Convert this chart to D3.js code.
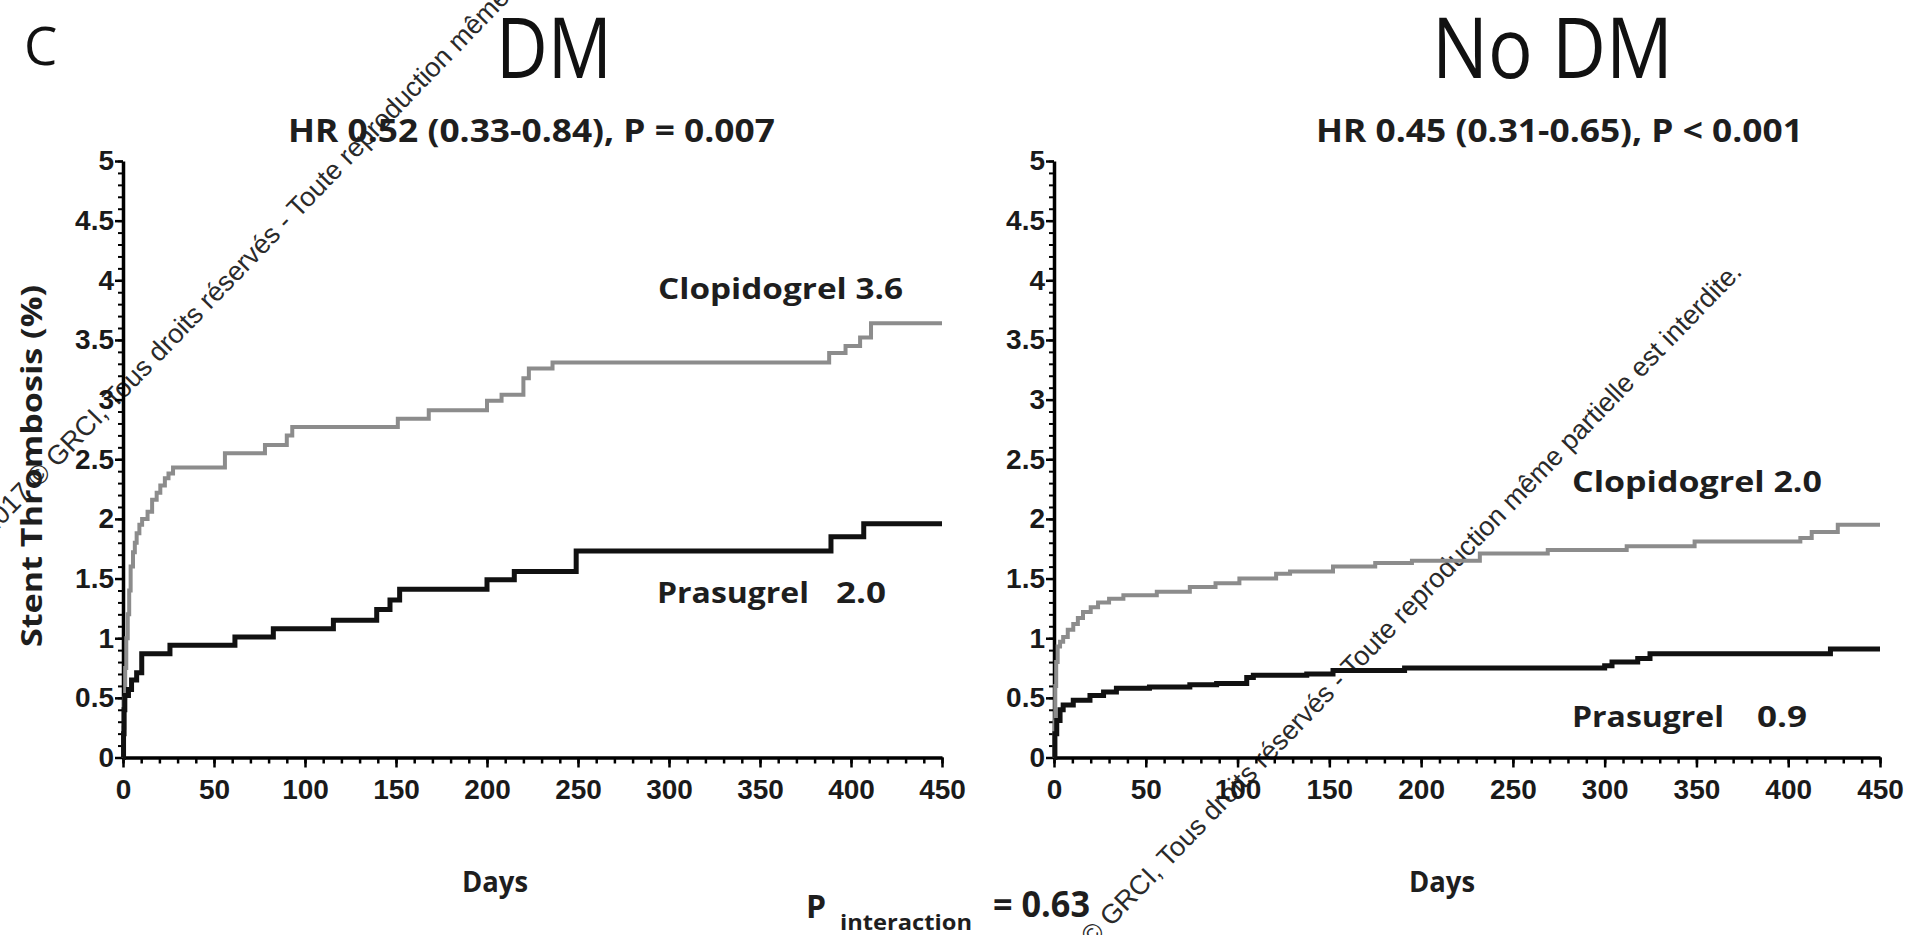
<!DOCTYPE html>
<html>
<head>
<meta charset="utf-8">
<script src="https://cdn.jsdelivr.net/npm/d3@7"></script>
<style>
  html, body { margin: 0; padding: 0; background: #fff; }
  svg { display: block; }
</style>
</head>
<body>
<svg id="chart" width="1915" height="935"></svg>
<script>
// Stent thrombosis, prasugrel vs clopidogrel, DM / No DM (panel C)

var yTicks = [0, 0.5, 1, 1.5, 2, 2.5, 3, 3.5, 4, 4.5, 5];
var yTickLabels = ["0", "0.5", "1", "1.5", "2", "2.5", "3", "3.5", "4", "4.5", "5"];
var xTicks = [0, 50, 100, 150, 200, 250, 300, 350, 400, 450];

var panelTitles = ["DM", "No DM"];
var hrTexts = ["HR 0.52 (0.33-0.84), P = 0.007", "HR 0.45 (0.31-0.65), P < 0.001"];
var clopiLabels = ["Clopidogrel 3.6", "Clopidogrel 2.0"];
var prasuNames = ["Prasugrel", "Prasugrel"];
var prasuValues = ["2.0", "0.9"];

// [day, cumulative %]
var clopiDM = [[0,0],[0.3,0.25],[0.7,0.5],[1.2,0.75],[1.8,1.0],[2.6,1.2],[3.4,1.4],[4.2,1.6],[5.5,1.72],[6.5,1.8],
  [7.5,1.88],[9,1.95],[10.5,2.0],[13.5,2.06],[16,2.16],[18.5,2.22],[20.5,2.28],[23,2.34],[25,2.38],[27.5,2.43],
  [56,2.55],[78,2.62],[90,2.7],[93,2.77],[151,2.84],[168,2.91],[200,2.99],[208,3.04],[220,3.18],[223,3.26],
  [236,3.31],[388,3.39],[397,3.45],[405,3.52],[411,3.64],[450,3.64]];

var prasuDM = [[0,0],[0.3,0.2],[0.6,0.4],[1,0.52],[3,0.57],[4.7,0.65],[7.5,0.71],[10.3,0.87],[25.8,0.94],
  [61.5,1.01],[82.6,1.08],[115.6,1.15],[139.4,1.24],[146.7,1.32],[152,1.41],[200,1.49],[215,1.56],[249,1.73],
  [389,1.85],[407,1.96],[450,1.96]];

var clopiNoDM = [[0,0],[0.3,0.3],[0.7,0.6],[1.2,0.8],[2,0.93],[3.3,0.97],[5,1.01],[7.5,1.07],[10.5,1.12],[13,1.17],
  [15.8,1.22],[20,1.26],[24,1.3],[30,1.33],[37.8,1.36],[56,1.39],[74,1.43],[88,1.46],[101,1.5],[121,1.54],
  [128.6,1.56],[152,1.6],[175,1.63],[195,1.65],[232,1.71],[269,1.74],[312,1.77],[349,1.81],[406.6,1.84],
  [412.8,1.89],[427,1.95],[450,1.95]];

var prasuNoDM = [[0,0],[0.5,0.2],[1.5,0.31],[3.3,0.4],[5,0.44],[10.5,0.48],[19.6,0.52],[27,0.55],[34,0.58],
  [52,0.59],[74,0.61],[88.6,0.62],[105,0.67],[108.6,0.69],[137.7,0.7],[152,0.73],[191,0.75],[300,0.77],
  [304,0.8],[318,0.83],[324.7,0.87],[423,0.91],[450,0.91]];

var svg = d3.select("#chart");
var bodyFont = "'Open Sans', 'Noto Sans', sans-serif";
var tickFont = "'Liberation Sans', Arial, sans-serif";

var y = d3.scaleLinear().domain([0, 5]).range([757.5, 161]);

// watermark lines (thin diagonal text)
var wm = "2017 \u00a9 GRCI, Tous droits r\u00e9serv\u00e9s - Toute reproduction m\u00eame partielle est interdite.";
[[52, 474], [1106, 933]].forEach(function(p) {
  var g = svg.append("g").attr("transform", "translate(" + p[0] + "," + p[1] + ") rotate(-46)");
  var pre = g.append("text").text("2017 \u00a9 ")
    .attr("font-family", tickFont).attr("font-size", 27).attr("opacity", 0);
  var w = pre.node().getComputedTextLength();
  pre.remove();
  g.append("text").text(wm)
    .attr("x", -w)
    .attr("font-family", tickFont).attr("font-size", 27)
    .attr("fill", "#2a2a2a");
});

var panels = [
  { x0: 123, x1: 942, clopi: clopiDM, prasu: prasuDM,
    titleX: 496, titleW: 116, hrX: 288,
    cl: [658, 299, 245], pr: [657, 603, 152], pv: [836, 603, 50], daysX: 462 },
  { x0: 1054, x1: 1880, clopi: clopiNoDM, prasu: prasuNoDM,
    titleX: 1432, titleW: 241, hrX: 1316,
    cl: [1572, 492, 250], pr: [1572, 727, 152], pv: [1757, 727, 50], daysX: 1409 }
];

panels.forEach(function(p, i) {
  var x = d3.scaleLinear().domain([0, 450]).range([p.x0, p.x1]);
  var g = svg.append("g");

  // minor ticks
  g.append("g")
    .attr("transform", "translate(0," + y(0) + ")")
    .call(d3.axisBottom(x).tickValues(d3.range(0, 451, 10)).tickSize(6).tickSizeOuter(0).tickFormat(""))
    .call(function(a) { a.select(".domain").remove(); a.selectAll("line").attr("stroke-width", 2.5); });
  g.append("g")
    .attr("transform", "translate(" + x(0) + ",0)")
    .call(d3.axisLeft(y).tickValues(d3.range(0, 5.01, 0.1)).tickSize(5).tickSizeOuter(0).tickFormat(""))
    .call(function(a) { a.select(".domain").remove(); a.selectAll("line").attr("stroke-width", 2); });

  // main axes
  var xAxis = g.append("g")
    .attr("transform", "translate(0," + y(0) + ")")
    .call(d3.axisBottom(x).tickValues(xTicks).tickSize(10).tickSizeOuter(0).tickPadding(12));
  var yAxis = g.append("g")
    .attr("transform", "translate(" + x(0) + ",0)")
    .call(d3.axisLeft(y).tickValues(yTicks).tickSize(8).tickSizeOuter(0).tickPadding(1)
      .tickFormat(function(d, k) { return yTickLabels[k]; }));

  [xAxis, yAxis].forEach(function(a) {
    a.select(".domain").attr("stroke", "#000").attr("stroke-width", 3.5);
    a.selectAll(".tick line").attr("stroke", "#000").attr("stroke-width", 2.5);
    a.selectAll(".tick text")
      .attr("font-family", tickFont).attr("font-size", 28).attr("font-weight", "bold")
      .attr("fill", "#1a1a1a");
  });

  // curves
  var line = d3.line().curve(d3.curveStepAfter)
    .x(function(d) { return x(d[0]); })
    .y(function(d) { return y(d[1]); });

  g.append("path").datum(p.clopi).attr("d", line)
    .attr("fill", "none").attr("stroke", "#8c8c8c").attr("stroke-width", 4);
  g.append("path").datum(p.prasu).attr("d", line)
    .attr("fill", "none").attr("stroke", "#111").attr("stroke-width", 5);

  function label(t, pos, size, weight) {
    return svg.append("text").text(t)
      .attr("x", pos[0]).attr("y", pos[1])
      .attr("textLength", pos[2]).attr("lengthAdjust", "spacingAndGlyphs")
      .attr("font-family", bodyFont).attr("font-size", size).attr("font-weight", weight || "bold")
      .attr("fill", "#1e1e1e");
  }

  label(panelTitles[i], [p.titleX, 78, p.titleW], 84, "normal").attr("fill", "#111");
  label(hrTexts[i], [p.hrX, 142, 487], 33);
  label(clopiLabels[i], p.cl, 28);
  label(prasuNames[i], p.pr, 28);
  label(prasuValues[i], p.pv, 28);
  label("Days", [p.daysX, 892, 66], 29);
});

// panel letter
svg.append("text").text("C")
  .attr("x", 24).attr("y", 65)
  .attr("font-family", bodyFont).attr("font-size", 53).attr("fill", "#111");

// y axis title
svg.append("text").text("Stent Thrombosis (%)")
  .attr("transform", "translate(42,647) rotate(-90)")
  .attr("textLength", 362).attr("lengthAdjust", "spacingAndGlyphs")
  .attr("font-family", bodyFont).attr("font-size", 29).attr("font-weight", "bold")
  .attr("fill", "#1e1e1e");

// interaction p value
svg.append("text").text("P")
  .attr("x", 806).attr("y", 918)
  .attr("font-family", bodyFont).attr("font-size", 32).attr("font-weight", "bold").attr("fill", "#1e1e1e");
svg.append("text").text("interaction")
  .attr("x", 840).attr("y", 930)
  .attr("textLength", 132).attr("lengthAdjust", "spacingAndGlyphs")
  .attr("font-family", bodyFont).attr("font-size", 22).attr("font-weight", "bold").attr("fill", "#1e1e1e");
svg.append("text").text("= 0.63")
  .attr("x", 993).attr("y", 917)
  .attr("textLength", 97).attr("lengthAdjust", "spacingAndGlyphs")
  .attr("font-family", bodyFont).attr("font-size", 36).attr("font-weight", "bold").attr("fill", "#1e1e1e");
</script>
</body>
</html>
